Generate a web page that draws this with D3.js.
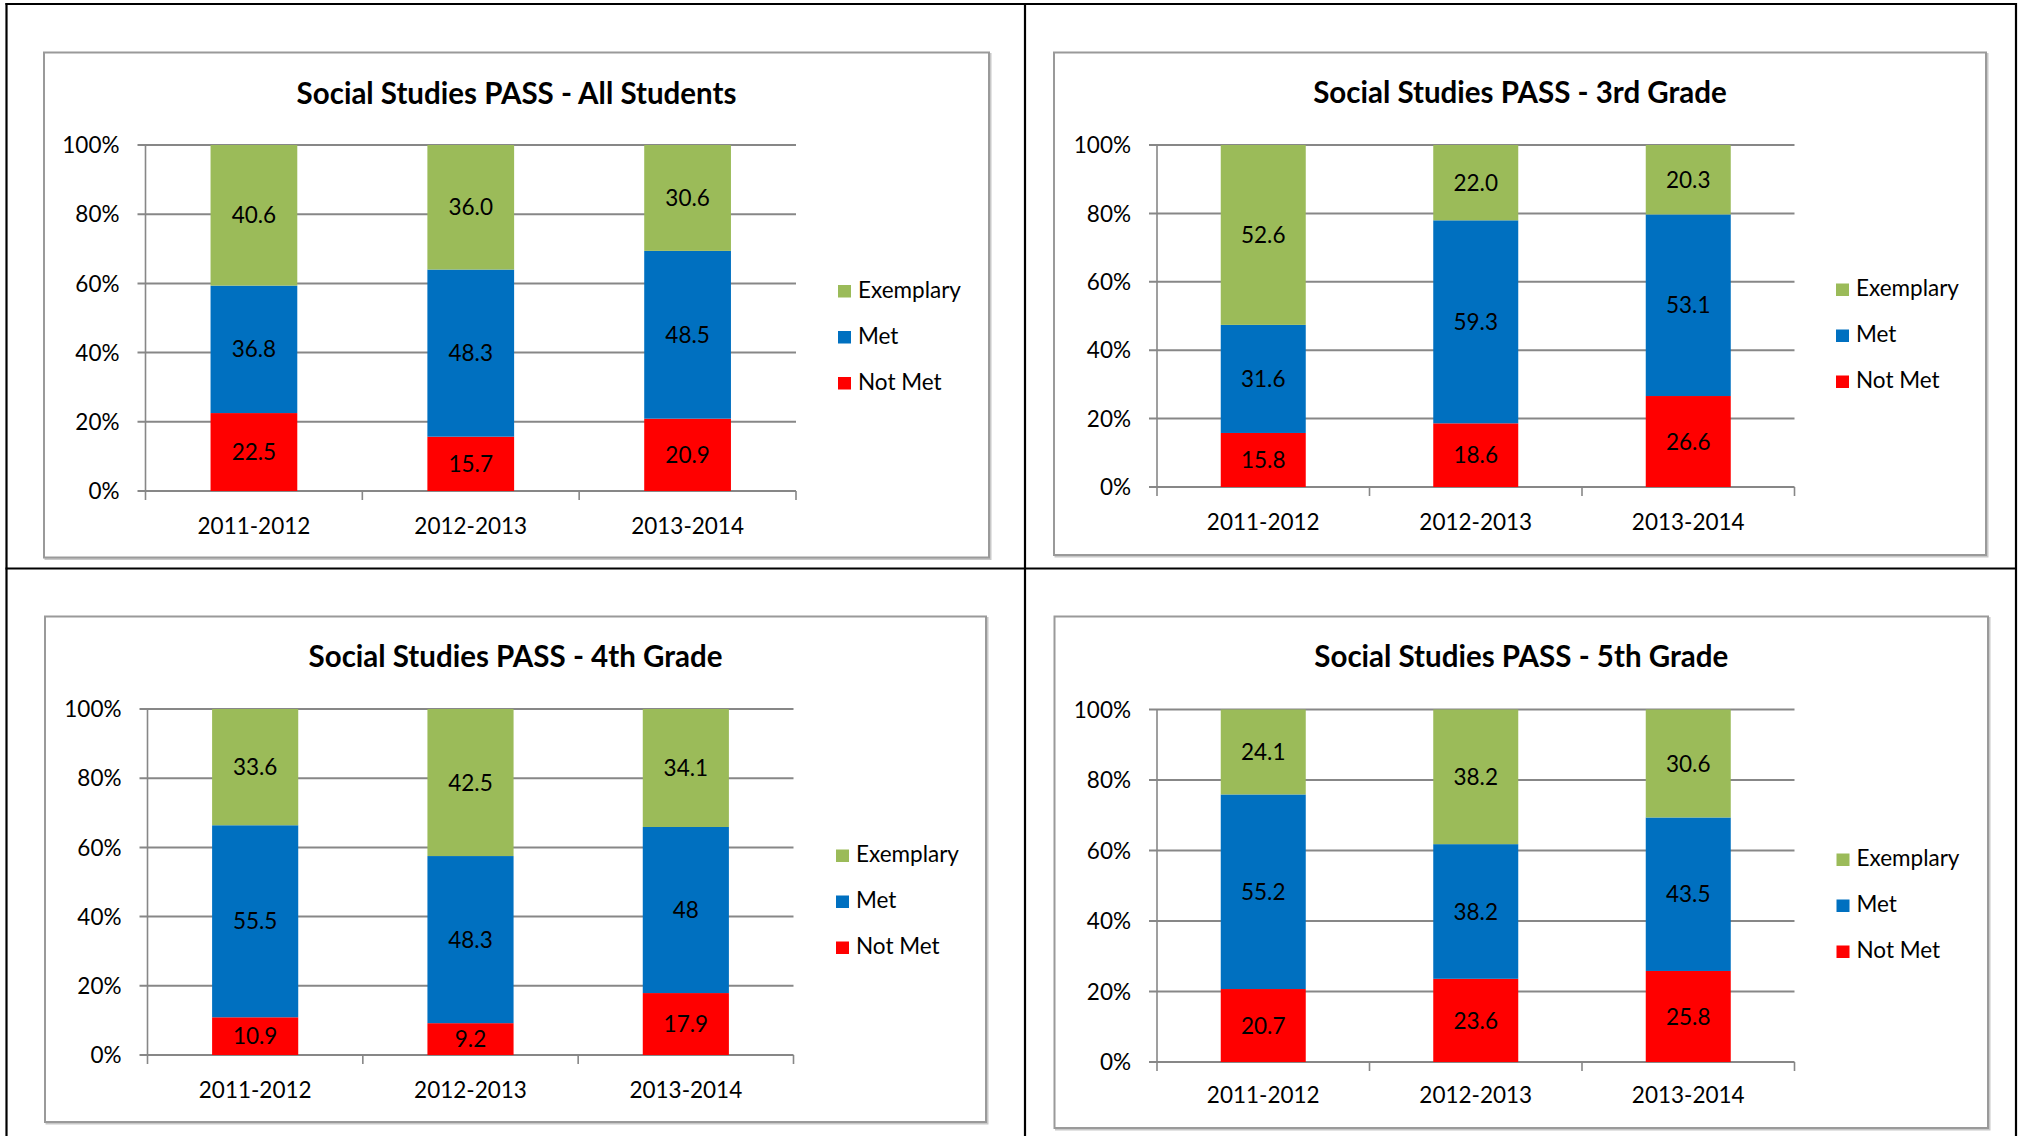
<!DOCTYPE html>
<html>
<head>
<meta charset="utf-8">
<script src="https://cdn.jsdelivr.net/npm/d3@7"></script>
<style>
  html, body { margin: 0; padding: 0; background: #ffffff; }
  svg { display: block; }
  text { font-family: Lato, "Open Sans", "Liberation Sans", sans-serif; fill: #000; }
</style>
</head>
<body>
<svg id="chart" width="2019" height="1136"></svg>
<script>
// ---------- DATA ----------
const categories = ["2011-2012", "2012-2013", "2013-2014"];
const seriesNames = ["Not Met", "Met", "Exemplary"];   // stacking order, bottom to top
const legendOrder = ["Exemplary", "Met", "Not Met"];
const yTickLabels = ["0%", "20%", "40%", "60%", "80%", "100%"];
const yTickValues = [0, 0.2, 0.4, 0.6, 0.8, 1.0];

const chartTitles = [
  "Social Studies PASS - All Students",
  "Social Studies PASS - 3rd Grade",
  "Social Studies PASS - 4th Grade",
  "Social Studies PASS - 5th Grade"
];

// labels exactly as printed on the bars
const allNotMet   = ["22.5", "15.7", "20.9"];
const allMet      = ["36.8", "48.3", "48.5"];
const allExemplary= ["40.6", "36.0", "30.6"];

const g3NotMet    = ["15.8", "18.6", "26.6"];
const g3Met       = ["31.6", "59.3", "53.1"];
const g3Exemplary = ["52.6", "22.0", "20.3"];

const g4NotMet    = ["10.9", "9.2", "17.9"];
const g4Met       = ["55.5", "48.3", "48"];
const g4Exemplary = ["33.6", "42.5", "34.1"];

const g5NotMet    = ["20.7", "23.6", "25.8"];
const g5Met       = ["55.2", "38.2", "43.5"];
const g5Exemplary = ["24.1", "38.2", "30.6"];

const chartSeries = [
  [allNotMet, allMet, allExemplary],
  [g3NotMet, g3Met, g3Exemplary],
  [g4NotMet, g4Met, g4Exemplary],
  [g5NotMet, g5Met, g5Exemplary]
];

// ---------- STYLE / LAYOUT ----------
const colors = { "Not Met": "#FF0000", "Met": "#0070C0", "Exemplary": "#9BBB59" };
const gridColor = "#878787";

const layouts = [
  { box: [44, 52.5, 945, 505],  plot: [145.5, 145, 796, 491],  titleY: 103.5, labelY: 534, legendX: 838,  legendY: 297.5 },
  { box: [1054, 52.5, 932, 502.5], plot: [1157, 145, 1794.5, 487], titleY: 103, labelY: 530, legendX: 1836, legendY: 296 },
  { box: [45, 616.5, 941, 505.5], plot: [147.5, 709, 793.5, 1055], titleY: 666.5, labelY: 1098, legendX: 836, legendY: 862 },
  { box: [1054.5, 616.5, 933.5, 511.5], plot: [1157, 709.5, 1794.5, 1062], titleY: 666.5, labelY: 1103, legendX: 1836.5, legendY: 866 }
];

const svg = d3.select("#chart");

// ---------- PAGE TABLE LINES ----------
const tbl = svg.append("g").attr("stroke", "#000").attr("stroke-width", 2.2);
tbl.append("line").attr("x1", 5.5).attr("x2", 2017).attr("y1", 4).attr("y2", 4);
tbl.append("line").attr("x1", 6.5).attr("x2", 6.5).attr("y1", 3).attr("y2", 1136);
tbl.append("line").attr("x1", 1025).attr("x2", 1025).attr("y1", 3).attr("y2", 1136);
tbl.append("line").attr("x1", 2016).attr("x2", 2016).attr("y1", 3).attr("y2", 1136);
tbl.append("line").attr("x1", 5.5).attr("x2", 2017).attr("y1", 568.5).attr("y2", 568.5);

// ---------- CHARTS ----------
function drawChart(idx) {
  const L = layouts[idx];
  const raw = chartSeries[idx];
  const g = svg.append("g");

  // chart border (with soft shadow)
  g.append("rect")
    .attr("x", L.box[0] + 1.5).attr("y", L.box[1] + 1.5)
    .attr("width", L.box[2]).attr("height", L.box[3])
    .attr("fill", "none").attr("stroke", "#c8c8c8").attr("stroke-width", 2);
  g.append("rect")
    .attr("x", L.box[0]).attr("y", L.box[1])
    .attr("width", L.box[2]).attr("height", L.box[3])
    .attr("fill", "#fff").attr("stroke", "#9a9a9a").attr("stroke-width", 2);

  const [px0, py0, px1, py1] = L.plot;

  const x = d3.scaleBand().domain(categories).range([px0, px1])
    .paddingInner(0.6).paddingOuter(0.3);
  const y = d3.scaleLinear().domain([0, 1]).range([py1, py0]);

  const rows = categories.map((c, i) => {
    const r = { category: c };
    seriesNames.forEach((s, k) => { r[s] = +raw[k][i]; r[s + "_label"] = raw[k][i]; });
    return r;
  });
  const stacked = d3.stack().keys(seriesNames).offset(d3.stackOffsetExpand)(rows);

  // title
  g.append("text")
    .attr("x", L.box[0] + L.box[2] / 2).attr("y", L.titleY)
    .attr("text-anchor", "middle")
    .style("font-weight", "bold").style("font-size", "29.5px")
    .text(chartTitles[idx]);

  // gridlines
  g.append("g").selectAll("line").data(yTickValues).join("line")
    .attr("x1", px0 - 8).attr("x2", px1)
    .attr("y1", d => y(d)).attr("y2", d => y(d))
    .attr("stroke", gridColor).attr("stroke-width", 2);

  // y axis line
  g.append("line")
    .attr("x1", px0).attr("x2", px0).attr("y1", py0).attr("y2", py1)
    .attr("stroke", gridColor).attr("stroke-width", 1.6);

  // x tick marks at category boundaries
  const step = x.step();
  const bounds = d3.range(categories.length + 1).map(i => px0 + i * step);
  g.append("g").selectAll("line").data(bounds).join("line")
    .attr("x1", d => d).attr("x2", d => d)
    .attr("y1", py1).attr("y2", py1 + 9)
    .attr("stroke", gridColor).attr("stroke-width", 1.6);

  // y tick labels
  g.append("g").selectAll("text").data(yTickValues).join("text")
    .attr("x", px0 - 26).attr("y", d => y(d)).attr("dy", "0.36em")
    .attr("text-anchor", "end").style("font-size", "22.5px")
    .text((d, i) => yTickLabels[i]);

  // x labels
  g.append("g").selectAll("text").data(categories).join("text")
    .attr("x", d => x(d) + x.bandwidth() / 2).attr("y", L.labelY)
    .attr("text-anchor", "middle").style("font-size", "22.5px")
    .text(d => d);

  // bars
  const layer = g.append("g").selectAll("g").data(stacked).join("g")
    .attr("fill", d => colors[d.key]);
  layer.selectAll("rect").data(d => d).join("rect")
    .attr("x", d => x(d.data.category))
    .attr("width", x.bandwidth())
    .attr("y", d => y(d[1]))
    .attr("height", d => y(d[0]) - y(d[1]));

  // data labels
  const lab = g.append("g").selectAll("g").data(stacked).join("g");
  lab.selectAll("text").data(d => d.map(v => ({ v, key: d.key }))).join("text")
    .attr("x", d => x(d.v.data.category) + x.bandwidth() / 2)
    .attr("y", d => (y(d.v[0]) + y(d.v[1])) / 2)
    .attr("dy", "0.36em")
    .attr("text-anchor", "middle").style("font-size", "22.5px")
    .text(d => d.v.data[d.key + "_label"]);

  // legend
  const lg = g.append("g").selectAll("g").data(legendOrder).join("g")
    .attr("transform", (d, i) => `translate(${L.legendX},${L.legendY + i * 46})`);
  lg.append("rect").attr("x", 0).attr("y", -12.5).attr("width", 13).attr("height", 12.5)
    .attr("fill", d => colors[d]);
  lg.append("text").attr("x", 20).attr("y", 0).style("font-size", "22.5px").text(d => d);
}

chartTitles.forEach((t, i) => drawChart(i));
</script>
</body>
</html>
